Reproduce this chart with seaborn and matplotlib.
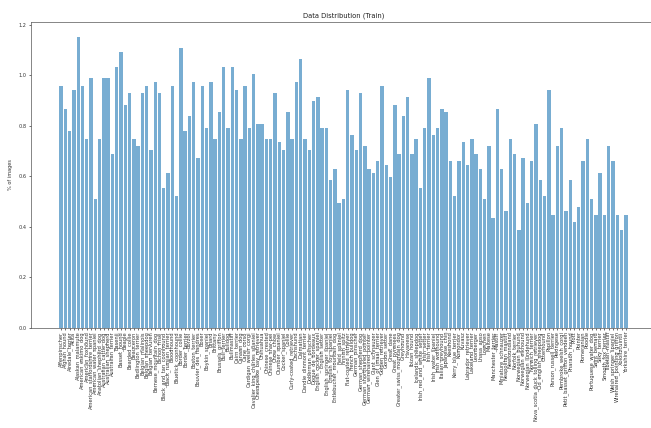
import matplotlib
matplotlib.use("Agg")
import matplotlib.pyplot as plt
import seaborn as sns

# breed names (x tick labels)
breeds = [
    "Affenpinscher", "Afghan_hound", "Airedale_terrier", "Akita", "Alaskan_malamute",
    "American_eskimo_dog", "American_foxhound", "American_staffordshire_terrier",
    "American_water_spaniel", "Anatolian_shepherd_dog", "Australian_cattle_dog",
    "Australian_shepherd", "Australian_terrier", "Basenji", "Basset_hound", "Beagle",
    "Bearded_collie", "Beauceron", "Bedlington_terrier", "Belgian_malinois",
    "Belgian_sheepdog", "Belgian_tervuren", "Bernese_mountain_dog", "Bichon_frise",
    "Black_and_tan_coonhound", "Black_russian_terrier", "Bloodhound", "Bluetick_coonhound",
    "Border_collie", "Border_terrier", "Borzoi", "Boston_terrier", "Bouvier_des_flandres",
    "Boxer", "Boykin_spaniel", "Briard", "Brittany", "Brussels_griffon", "Bull_terrier",
    "Bulldog", "Bullmastiff", "Cairn_terrier", "Canaan_dog", "Cane_corso",
    "Cardigan_welsh_corgi", "Cavalier_king_charles_spaniel", "Chesapeake_bay_retriever",
    "Chihuahua", "Chinese_crested", "Chinese_shar-pei", "Chow_chow", "Clumber_spaniel",
    "Cocker_spaniel", "Collie", "Curly-coated_retriever", "Dachshund", "Dalmatian",
    "Dandie_dinmont_terrier", "Doberman_pinscher", "Dogue_de_bordeaux",
    "English_cocker_spaniel", "English_setter", "English_springer_spaniel",
    "English_toy_spaniel", "Entlebucher_mountain_dog", "Field_spaniel", "Finnish_spitz",
    "Flat-coated_retriever", "French_bulldog", "German_pinscher", "German_shepherd_dog",
    "German_shorthaired_pointer", "German_wirehaired_pointer", "Giant_schnauzer",
    "Glen_of_imaal_terrier", "Golden_retriever", "Gordon_setter", "Great_dane",
    "Great_pyrenees", "Greater_swiss_mountain_dog", "Greyhound", "Havanese",
    "Ibizan_hound", "Icelandic_sheepdog", "Irish_red_and_white_setter", "Irish_setter",
    "Irish_terrier", "Irish_water_spaniel", "Irish_wolfhound", "Italian_greyhound",
    "Japanese_chin", "Keeshond", "Kerry_blue_terrier", "Komondor", "Kuvasz",
    "Labrador_retriever", "Lakeland_terrier", "Leonberger", "Lhasa_apso", "Lowchen",
    "Maltese", "Manchester_terrier", "Mastiff", "Miniature_schnauzer",
    "Neapolitan_mastiff", "Newfoundland", "Norfolk_terrier", "Norwegian_buhund",
    "Norwegian_elkhound", "Norwegian_lundehund", "Norwich_terrier",
    "Nova_scotia_duck_tolling_retriever", "Old_english_sheepdog", "Otterhound",
    "Papillon", "Parson_russell_terrier", "Pekingese", "Pembroke_welsh_corgi",
    "Petit_basset_griffon_vendeen", "Pharaoh_hound", "Plott", "Pointer", "Pomeranian",
    "Poodle", "Portuguese_water_dog", "Saint_bernard", "Silky_terrier",
    "Smooth_fox_terrier", "Tibetan_mastiff", "Welsh_springer_spaniel",
    "Wirehaired_pointing_griffon", "Xoloitzcuintli", "Yorkshire_terrier",
]

# % of train images per breed
pct_images = [
    0.958, 0.868, 0.778, 0.943, 1.153, 0.958, 0.749, 0.988, 0.509, 0.749,
    0.988, 0.988, 0.689, 1.033, 1.093, 0.883, 0.928, 0.749, 0.719, 0.928,
    0.958, 0.704, 0.973, 0.928, 0.554, 0.614, 0.958, 0.524, 1.108, 0.778,
    0.838, 0.973, 0.674, 0.958, 0.793, 0.973, 0.749, 0.853, 1.033, 0.793,
    1.033, 0.943, 0.749, 0.958, 0.793, 1.003, 0.808, 0.808, 0.749, 0.749,
    0.928, 0.734, 0.704, 0.853, 0.749, 0.973, 1.063, 0.749, 0.704, 0.898,
    0.913, 0.793, 0.793, 0.584, 0.629, 0.494, 0.509, 0.943, 0.763, 0.704,
    0.928, 0.719, 0.629, 0.614, 0.659, 0.958, 0.644, 0.599, 0.883, 0.689,
    0.838, 0.913, 0.689, 0.749, 0.554, 0.793, 0.988, 0.763, 0.793, 0.868,
    0.853, 0.659, 0.524, 0.659, 0.734, 0.644, 0.749, 0.689, 0.629, 0.509,
    0.719, 0.434, 0.868, 0.629, 0.464, 0.749, 0.689, 0.389, 0.674, 0.494,
    0.659, 0.808, 0.584, 0.524, 0.943, 0.449, 0.719, 0.793, 0.464, 0.584,
    0.419, 0.479, 0.659, 0.749, 0.509, 0.449, 0.614, 0.449, 0.719, 0.659,
    0.449, 0.389, 0.449,
]

fig = plt.figure(figsize=(6.51, 4.28), dpi=100)
ax = fig.add_axes([0.0476, 0.2336, 0.96, 0.715])

sns.barplot(x=breeds, y=pct_images, color="#1f77b4", alpha=0.6, saturation=1,
            width=0.8, linewidth=0, ax=ax)

# matplotlib-style 5% margins on x
n = len(breeds)
pad = 0.05 * (n - 1 + 0.8)
ax.set_xlim(-0.4 - pad, n - 1 + 0.4 + pad)
ax.set_ylim(0, max(pct_images) * 1.05)

ax.set_title("Data Distribution (Train)", fontsize=4.9, pad=3, color="#222222")
ax.set_ylabel("% of images", fontsize=3.6, labelpad=4, color="#333333")
ax.tick_params(axis="y", labelsize=3.6, length=1.5, width=0.4, pad=1.5, labelcolor="#333333")
ax.tick_params(axis="x", labelsize=3.7, length=1.5, width=0.4, pad=1, labelrotation=90,
               labelcolor="#333333")
for s in ax.spines.values():
    s.set_linewidth(0.5)
    s.set_color("#555555")

fig.savefig("out.png", dpi=100)
